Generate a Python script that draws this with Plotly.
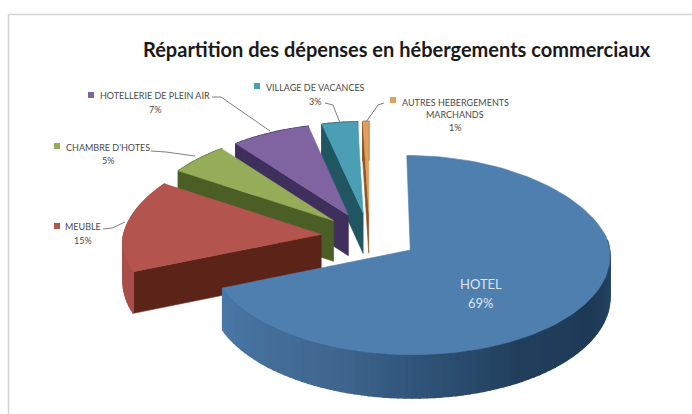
import math
import plotly.graph_objects as go

# ---------- data ----------
categories = ["HOTEL", "MEUBLE", "CHAMBRE D'HOTES", "HOTELLERIE DE PLEIN AIR",
              "VILLAGE DE VACANCES", "AUTRES HEBERGEMENTS MARCHANDS"]
values = [68.9, 15, 5.2, 7.1, 3.25, 0.55]
title_text = "Répartition des dépenses en hébergements commerciaux"

# ---------- style ----------
top_colors = ["#4f7fae", "#b3544f", "#95ad59", "#8064a2", "#4a9fb5", "#e0a060"]
side_colors = ["#2a4a6b", "#5c2419", "#4a5e25", "#3f2f5c", "#1f5662", "#8a5522"]
outer_colors = ["#2a4a6b", "#a94e49", "#4a5e25", "#3f2f5c", "#1f5662", "#8a5522"]
hotel_wall_stops = [(90, (39, 73, 106)), (120, (30, 58, 86)), (150, (34, 64, 94)),
                    (180, (49, 85, 122)), (200, (63, 102, 142)), (250, (75, 121, 168))]

CX, CY, R, K, DEPTH, EXPLODE, F, F_BACK = 369.6, 236.5, 198.0, 0.495, 41.0, 48.7, 4000.0, 2000.0
FONT = "Lato"
LABEL = "#4a4a4a"


def project(X, Y, z=0.0):
    s = F / (F + Y)
    sx = F_BACK / (F_BACK + Y) if Y > 0 else s
    return CX + X * sx, CY - K * Y * s + DEPTH * z * s


def polar(theta, ox, oy, r=R):
    t = math.radians(theta)
    return ox + r * math.sin(t), oy + r * math.cos(t)


def poly(fig, pts, color, name, width=0.6):
    xs = [p[0] for p in pts] + [pts[0][0]]
    ys = [p[1] for p in pts] + [pts[0][1]]
    fig.add_trace(go.Scatter(x=xs, y=ys, mode="lines", fill="toself", fillcolor=color,
                             line=dict(color=color, width=width), name=name,
                             hoverinfo="name", showlegend=False))


def wall_color(theta):
    for (a0, c0), (a1, c1) in zip(hotel_wall_stops, hotel_wall_stops[1:]):
        if a0 <= theta <= a1:
            u = (theta - a0) / (a1 - a0)
            return "rgb(%d,%d,%d)" % tuple(c0[i] + u * (c1[i] - c0[i]) for i in range(3))
    return "rgb(%d,%d,%d)" % (hotel_wall_stops[0][1] if theta < 90 else hotel_wall_stops[-1][1])


fig = go.Figure()

# angular extents, clockwise from north
total = sum(values)
spans = []
acc = 0.0
for v in values:
    start = acc * 360 / total
    acc += v
    spans.append((start, acc * 360 / total))

for i in [5, 4, 3, 2, 1, 0]:
    a0, a1 = spans[i]
    mid = (a0 + a1) / 2
    ox, oy = polar(mid, 0, 0, EXPLODE)
    n = max(4, int((a1 - a0) / 2))
    thetas = [a0 + (a1 - a0) * j / n for j in range(n + 1)]
    apex_top = project(ox, oy, 0)
    apex_bot = project(ox, oy, 1)

    # radial wall on the leading edge, seen from the front
    e_x, e_y = polar(a0, ox, oy)
    if i != 0:
        poly(fig, [apex_top, project(e_x, e_y, 0), project(e_x, e_y, 1), apex_bot],
             side_colors[i], categories[i])

    # outer rim, in pieces so that its shade can follow the angle
    for t0, t1 in zip(thetas, thetas[1:]):
        if i == 0:
            if t1 < 85:
                continue
            col = wall_color((t0 + t1) / 2)
        else:
            col = outer_colors[i]
        p0 = polar(t0, ox, oy)
        p1 = polar(t1, ox, oy)
        poly(fig, [project(*p0, 0), project(*p1, 0), project(*p1, 1), project(*p0, 1)],
             col, categories[i], width=1.4)

    # top face
    arc = [project(*polar(t, ox, oy), 0) for t in thetas]
    poly(fig, [apex_top] + arc, top_colors[i], categories[i])

# ---------- leader lines ----------
leaders = [
    ([212, 221, 270], [97, 97, 131]),
    ([151, 166, 195], [151, 152, 156]),
    ([103, 112, 125], [229, 228, 222]),
    ([325, 333, 340], [103, 105, 123]),
    ([384, 378, 366], [103, 105, 122]),
]
for lx, ly in leaders:
    fig.add_trace(go.Scatter(x=lx, y=ly, mode="lines", line=dict(color="#808080", width=1),
                             hoverinfo="skip", showlegend=False))

# ---------- legend keys ----------
keys = [(57, 226, 1), (57, 146, 2), (91, 95, 3), (257, 86, 4), (393, 100, 5)]
for kx, ky, idx in keys:
    fig.add_trace(go.Scatter(x=[kx], y=[ky], mode="markers",
                             marker=dict(symbol="square", size=6, color=top_colors[idx]),
                             hoverinfo="skip", showlegend=False))

# ---------- text ----------
pct = [f"{round(v)}%" for v in values]
notes = [
    (397, 49, title_text, 20, "#1a1a1a", True),
    (481, 284, categories[0], 13, "#dbe6f2", False),
    (481, 303, pct[0], 13, "#dbe6f2", False),
    (83, 226, categories[1], 9, LABEL, False),
    (83, 240, pct[1], 9, LABEL, False),
    (108, 147, categories[2], 9, LABEL, False),
    (108, 160, pct[2], 9, LABEL, False),
    (155, 95, categories[3], 9, LABEL, False),
    (155, 109, pct[3], 9, LABEL, False),
    (315, 87, categories[4], 9, LABEL, False),
    (315, 101, pct[4], 9, LABEL, False),
    (455, 102, "AUTRES HEBERGEMENTS", 9, LABEL, False),
    (455, 114, "MARCHANDS", 9, LABEL, False),
    (455, 127, pct[5], 9, LABEL, False),
]
annotations = [
    dict(x=x, y=y, xref="x", yref="y", text=f"<b>{t}</b>" if b else t, showarrow=False,
         xanchor="center", yanchor="middle",
         font=dict(family=FONT, size=s, color=c))
    for x, y, t, s, c, b in notes
]

# ---------- frame ----------
shapes = [
    dict(type="line", xref="x", yref="y", x0=8.5, x1=692, y0=14.5, y1=14.5,
         line=dict(color="#d4d4d4", width=1.5)),
    dict(type="line", xref="x", yref="y", x0=8.5, x1=8.5, y0=14.5, y1=414,
         line=dict(color="#d4d4d4", width=1.5)),
]

fig.update_layout(
    width=692, height=414, margin=dict(l=0, r=0, t=0, b=0),
    paper_bgcolor="white", plot_bgcolor="white", showlegend=False,
    xaxis=dict(range=[0, 692], visible=False, fixedrange=True),
    yaxis=dict(range=[414, 0], visible=False, fixedrange=True),
    annotations=annotations, shapes=shapes,
)
fig.write_html("out.html", config={"displayModeBar": False},
               post_script="document.body.style.margin='0';document.body.style.overflow='hidden';")
